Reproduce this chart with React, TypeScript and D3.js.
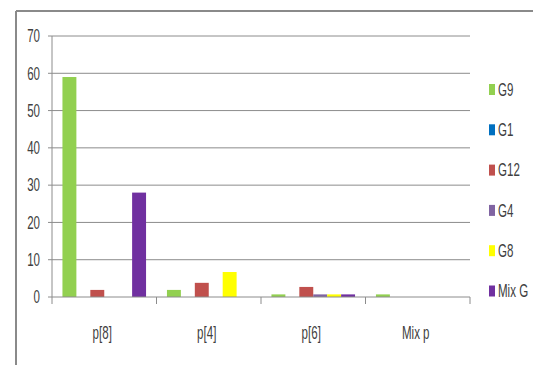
import React from "react";
import * as d3 from "d3";

const categories = ["p[8]", "p[4]", "p[6]", "Mix p"];
const seriesNames = ["G9", "G1", "G12", "G4", "G8", "Mix G"];
const seriesColors = ["#92D050", "#0070C0", "#C0504D", "#8064A2", "#FFFF00", "#7030A0"];
// values per series, in category order
const G9 = [59, 1.9, 0.7, 0.7];
const G1 = [0, 0, 0, 0];
const G12 = [1.9, 3.8, 2.7, 0];
const G4 = [0, 0, 0.7, 0];
const G8 = [0, 6.7, 0.7, 0];
const MixG = [28, 0, 0.7, 0];
const seriesValues = [G9, G1, G12, G4, G8, MixG];
const yTicks = [0, 10, 20, 30, 40, 50, 60, 70];

const W = 533;
const H = 365;
const plot = { left: 52, right: 470, top: 36, bottom: 297 };
const font = "'Liberation Sans', Arial, sans-serif";
const squeeze = 0.66;

// narrow label: text drawn at (x, y) and compressed horizontally
function Label(props: { x: number; y: number; anchor?: "start" | "middle" | "end"; children: React.ReactNode }) {
  return (
    <text
      transform={`translate(${props.x},${props.y}) scale(${squeeze},1)`}
      dy="0.36em"
      textAnchor={props.anchor || "start"}
      fontFamily={font}
      fontSize={17.5}
      fill="#404040"
    >
      {props.children}
    </text>
  );
}

export default function App() {
  const x = d3.scaleBand<string>().domain(categories).range([plot.left, plot.right]).padding(0);
  const inner = d3
    .scaleBand<string>()
    .domain(seriesNames)
    .range([0, x.bandwidth()])
    .paddingInner(0)
    .paddingOuter(0.75);
  const y = d3.scaleLinear().domain([0, 70]).range([plot.bottom, plot.top]);

  const legendY = d3.scalePoint<string>().domain(seriesNames).range([89.5, 291]);
  const grid = "#8c8c8c";

  return (
    <div style={{ position: "fixed", left: 0, top: 0 }}>
      <svg width={W} height={H} style={{ display: "block", background: "#fff" }}>
        {/* outer frame: top and left edges */}
        <line x1={16} y1={11} x2={W} y2={11} stroke="#8a8a8a" strokeWidth={2} />
        <line x1={16} y1={11} x2={16} y2={H} stroke="#8a8a8a" strokeWidth={2} />

        {/* gridlines and y ticks */}
        {yTicks.map((t) => (
          <g key={t}>
            {t > 0 && (
              <line x1={plot.left} x2={plot.right} y1={y(t)} y2={y(t)} stroke={grid} strokeWidth={1} />
            )}
            <line x1={plot.left - 4} x2={plot.left} y1={y(t)} y2={y(t)} stroke={grid} strokeWidth={1} />
            <Label x={40} y={y(t)} anchor="end">
              {t}
            </Label>
          </g>
        ))}

        {/* bars */}
        {categories.map((c, ci) => (
          <g key={c}>
            {seriesNames.map((s, si) => {
              const v = seriesValues[si][ci];
              if (!v) return null;
              return (
                <rect
                  key={s}
                  x={(x(c) as number) + (inner(s) as number)}
                  y={y(v)}
                  width={inner.bandwidth()}
                  height={y(0) - y(v)}
                  fill={seriesColors[si]}
                />
              );
            })}
          </g>
        ))}

        {/* axes */}
        <line x1={plot.left} x2={plot.left} y1={plot.top} y2={plot.bottom} stroke={grid} strokeWidth={1} />
        <line x1={plot.left} x2={plot.right} y1={plot.bottom} y2={plot.bottom} stroke={grid} strokeWidth={1} />
        {[...categories.map((c) => x(c) as number), plot.right].map((px, i) => (
          <line key={i} x1={px} x2={px} y1={plot.bottom} y2={plot.bottom + 7} stroke={grid} strokeWidth={1} />
        ))}
        {categories.map((c) => (
          <Label key={c} x={(x(c) as number) + x.bandwidth() / 2 - 2} y={333} anchor="middle">
            {c}
          </Label>
        ))}

        {/* legend */}
        {seriesNames.map((s, i) => (
          <g key={s} transform={`translate(489, ${legendY(s)})`}>
            <rect x={0} y={-5.5} width={6} height={11} fill={seriesColors[i]} />
            <Label x={9} y={0}>
              {s}
            </Label>
          </g>
        ))}
      </svg>
    </div>
  );
}
